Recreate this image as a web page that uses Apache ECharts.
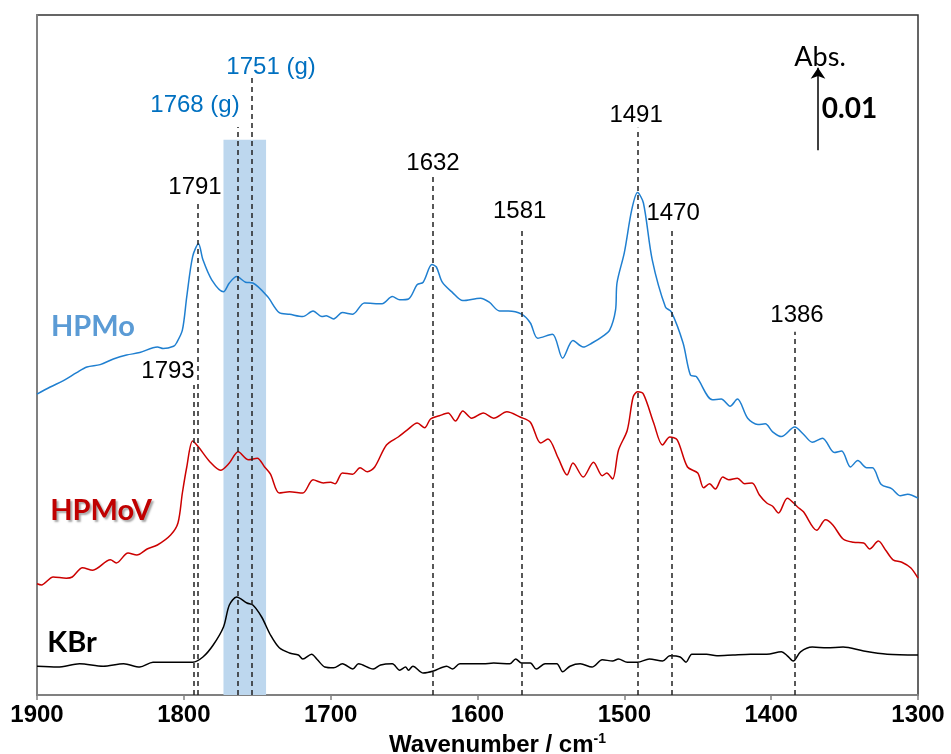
<!DOCTYPE html>
<html><head><meta charset="utf-8">
<script src="https://cdn.jsdelivr.net/npm/echarts@6/dist/echarts.min.js"></script>
<style>html,body{margin:0;padding:0;background:#fff}#c{width:951px;height:754px}</style>
</head><body><div id="c"></div>
<script>
// Absorbance values in units of 10^-3 Abs (offset spectra), wavenumber in cm-1
const hpmoWn = [1900,1891,1882,1873,1866,1857,1848,1839,1830,1818,1814,1807,1805,1801,1798,1794,1790,1787,1781,1773,1769,1764,1758,1753,1743,1735,1728,1719,1712,1706,1703,1698,1692,1685,1677,1665,1658,1653,1647,1641,1637,1631,1628,1624,1617,1610,1598,1592,1585,1579,1570,1564,1559,1549,1542,1535,1528,1522,1515,1510,1506,1505,1500,1495,1491,1487,1481,1472,1468,1460,1455,1451,1440,1434,1428,1423,1416,1409,1404,1399,1393,1384,1378,1372,1365,1357,1352,1346,1341,1335,1331,1325,1318,1312,1307,1300];
const hpmoAbs = [37.6,38.5,39.3,40.3,41.0,41.3,42.0,42.5,42.8,43.5,43.3,43.6,44.0,45.6,49.8,54.8,56.4,54.4,51.9,50.4,51.5,52.3,51.6,51.5,49.8,47.8,47.6,47.3,48.0,47.3,47.4,47.0,47.8,47.6,49.0,48.9,49.8,49.4,49.5,51.3,51.6,53.8,53.5,51.6,50.3,49.3,49.6,49.1,48.0,48.0,47.6,46.5,44.6,45.1,42.1,44.3,43.5,44.0,44.8,45.6,48.1,51.5,55.3,60.6,62.8,61.5,54.4,48.5,47.9,44.0,40.0,39.8,36.9,37.0,36.1,37.0,34.6,33.8,33.9,32.9,32.3,33.5,32.6,31.6,32.1,30.3,30.5,28.5,29.3,28.4,28.4,26.3,25.8,24.9,25.1,24.6];

const hpmovWn = [1900,1897,1889,1880,1876,1869,1862,1850,1846,1838,1832,1825,1818,1809,1804,1801,1798,1794,1790,1782,1775,1769,1763,1756,1750,1745,1741,1735,1728,1719,1712,1705,1700,1697,1692,1685,1680,1675,1670,1662,1654,1648,1641,1636,1632,1626,1620,1615,1610,1604,1596,1589,1580,1571,1564,1557,1552,1545,1539,1535,1528,1521,1515,1512,1508,1504,1498,1494,1491,1487,1480,1474,1469,1464,1457,1450,1446,1442,1438,1433,1429,1423,1418,1413,1408,1403,1399,1395,1389,1382,1378,1369,1363,1358,1351,1344,1337,1333,1327,1322,1317,1311,1305,1300];
const hpmovAbs = [13.9,13.75,14.75,14.6,14.75,15.9,15.6,16.9,16.5,17.75,17.5,18.25,18.75,20.0,21.5,25.25,28.5,31.75,31.0,29.1,28.1,29.0,30.4,29.4,29.6,28.5,27.6,25.25,25.4,25.25,26.9,26.5,26.6,26.4,27.75,27.6,28.4,27.9,28.5,31.25,32.25,33.1,34.0,33.4,34.5,34.9,35.25,34.25,35.5,34.6,35.25,34.6,35.4,34.75,34.1,31.5,32.0,29.6,27.5,29.0,27.25,29.1,27.4,27.75,27.0,30.6,33.1,37.25,37.9,37.6,34.0,31.25,32.25,31.9,28.5,27.75,25.9,26.4,25.75,27.25,26.9,27.1,26.4,26.5,25.0,24.0,23.6,22.75,24.6,23.5,22.9,20.6,21.9,21.25,19.5,19.1,19.0,18.25,19.25,18.1,16.9,16.6,15.9,14.6];

const kbrWn = [1900,1886,1871,1855,1841,1830,1821,1803,1794,1787,1780,1773,1769,1764,1757,1753,1747,1741,1735,1728,1722,1719,1713,1709,1704,1698,1692,1685,1681,1671,1666,1658,1653,1649,1647,1644,1637,1630,1621,1617,1612,1596,1589,1578,1574,1570,1564,1560,1554,1546,1542,1537,1530,1522,1515,1508,1504,1498,1491,1483,1474,1469,1462,1458,1454,1444,1437,1426,1414,1403,1393,1389,1385,1380,1372,1362,1351,1337,1321,1300];
const kbrAbs = [3.6,3.5,3.9,3.6,3.9,3.5,4.1,4.1,4.1,4.75,6.25,8.5,11.25,12.25,11.5,11.25,9.75,7.5,5.9,5.25,5.0,4.5,5.1,4.4,3.5,3.4,3.9,3.25,3.9,3.25,3.75,3.9,3.1,3.5,3.1,3.6,2.75,3.0,3.6,3.25,3.9,3.9,4.0,3.9,4.5,4.0,4.0,3.25,3.9,3.9,2.9,3.6,3.9,3.5,4.4,4.25,4.5,4.1,4.1,4.5,4.25,4.9,4.75,4.1,5.1,5.1,4.9,5.0,5.1,5.1,5.4,4.9,4.25,5.4,6.0,5.9,6.0,5.5,5.1,5.0];

// Peak markers (dashed guide lines) and their labels
const peakPos   = [1790.3, 1793, 1763.5, 1753.6, 1630.5, 1570, 1491, 1467.5, 1384];
const peakTop   = [61.5, 38.75, 71, 77.6, 64.75, 58.5, 70.9, 58.5, 45.4];
const peakText  = ['1791','1793','1768 (g)','1751 (g)','1632','1581','1491','1470','1386'];
const peakGas   = [false,false,true,true,false,false,false,false,false];
const peakLabelAt = [[1792.4,63.4],[1810.8,40.4],[1792.4,73.75],[1740.6,78.5],[1630.3,66.5],[1571.3,60.4],[1492,72.5],[1466.8,60.25],[1382.4,47.5]];

const bandRange = [1773, 1744];
const bandTop = 69.4;

const seriesNames = ['HPMo','HPMoV','KBr'];
const seriesColors = ['#1f7fd0','#cc0000','#000000'];
const nameColors = ['#5b9bd5','#c00000','#000000'];
const nameAt = [[1890.5,46],[1891,23.1],[1893,6.6]];

const scaleBar = {x:1368.1, from:68.1, to:78.4, text:'0.01', unit:'Abs.'};

const zip = (a,b)=>a.map((v,i)=>[v,b[i]]);

const chart = echarts.init(document.getElementById('c'));
const font = 'Liberation Sans, Arial, sans-serif';
const calib = 'Lato, Carlito, Calibri, sans-serif';

const lineSeries = [[hpmoWn,hpmoAbs],[hpmovWn,hpmovAbs],[kbrWn,kbrAbs]].map((d,i)=>({
  name: seriesNames[i], type:'line', data: zip(d[0],d[1]), showSymbol:false, symbol:'none',
  smooth:0.3, z:4, lineStyle:{color:seriesColors[i], width:1.5}, animation:false
}));

const labelData = peakText.map((t,i)=>({
  value: peakLabelAt[i],
  label:{show:true, formatter:t, position:'inside', fontFamily:font, fontSize:24,
         color: peakGas[i] ? '#0070c0' : '#000'}
}));
nameAt.forEach((p,i)=>labelData.push({
  value:p,
  label:{show:true, formatter:seriesNames[i], position:[0,0], align:'left', verticalAlign:'middle',
         fontFamily:calib, fontWeight:'bold', fontSize:29, color:nameColors[i],
         textShadowColor: i===1 ? 'rgba(0,0,0,0.35)' : 'transparent',
         textShadowBlur: i===1 ? 2 : 0, textShadowOffsetX: i===1 ? 2 : 0, textShadowOffsetY: i===1 ? 2 : 0}
}));
labelData.push({value:[1366.7,79.75], label:{show:true, formatter:scaleBar.unit, position:'inside', fontFamily:calib, fontSize:27, color:'#000'}});
labelData.push({value:[1365.5,73.25], label:{show:true, formatter:scaleBar.text, position:[0,0], align:'left', verticalAlign:'middle', fontFamily:calib, fontWeight:'bold', fontSize:28, color:'#000'}});

chart.setOption({
  animation:false,
  grid:{left:37, right:33, top:15, bottom:59, containLabel:false, outerBoundsMode:'none',
        show:true, borderColor:'#333', borderWidth:1.5, backgroundColor:'transparent'},
  xAxis:{type:'value', inverse:true, min:1300, max:1900, interval:100,
    axisLine:{show:true, onZero:false, lineStyle:{color:'#808080', width:2}},
    axisTick:{show:true, length:5, lineStyle:{color:'#808080', width:1.5}},
    axisLabel:{fontFamily:font, fontWeight:'bold', fontSize:24, color:'#000', margin:8, formatter:v=>String(v)},
    splitLine:{show:false},
    name:'{a|Wavenumber / cm}{b|-1}', nameLocation:'middle', nameGap:36,
    nameTextStyle:{padding:[0,0,0,40], rich:{
      a:{fontFamily:font, fontWeight:'bold', fontSize:24, color:'#000'},
      b:{fontFamily:font, fontWeight:'bold', fontSize:14, color:'#000', verticalAlign:'top', padding:[0,0,12,0]}
    }}
  },
  yAxis:{type:'value', min:0, max:85,
    axisLine:{show:true, onZero:false, lineStyle:{color:'#808080', width:2}},
    axisTick:{show:false}, axisLabel:{show:false}, splitLine:{show:false}},
  series:[
    {type:'line', data:[], z:1, silent:true,
      markArea:{silent:true, itemStyle:{color:'#bdd7ee'}, data:[[{coord:[bandRange[0],0]},{coord:[bandRange[1],bandTop]}]]}},
    {type:'line', data:[], z:3, silent:true,
      markLine:{silent:true, symbol:'none', label:{show:false}, animation:false,
        lineStyle:{type:[5,4], color:'#222', width:1.5},
        data: peakPos.map((p,i)=>[{coord:[p,0]},{coord:[p,peakTop[i]]}])}},
    {type:'line', data:[], z:3, silent:true,
      markLine:{silent:true, symbol:['none','arrow'], symbolSize:11, label:{show:false}, animation:false,
        lineStyle:{type:'solid', color:'#000', width:1.5},
        data:[[{coord:[scaleBar.x,scaleBar.from]},{coord:[scaleBar.x,scaleBar.to]}]]}},
    ...lineSeries,
    {type:'scatter', data:labelData, symbolSize:0, z:6, silent:true, animation:false, itemStyle:{opacity:1}}
  ]
});
</script></body></html>
